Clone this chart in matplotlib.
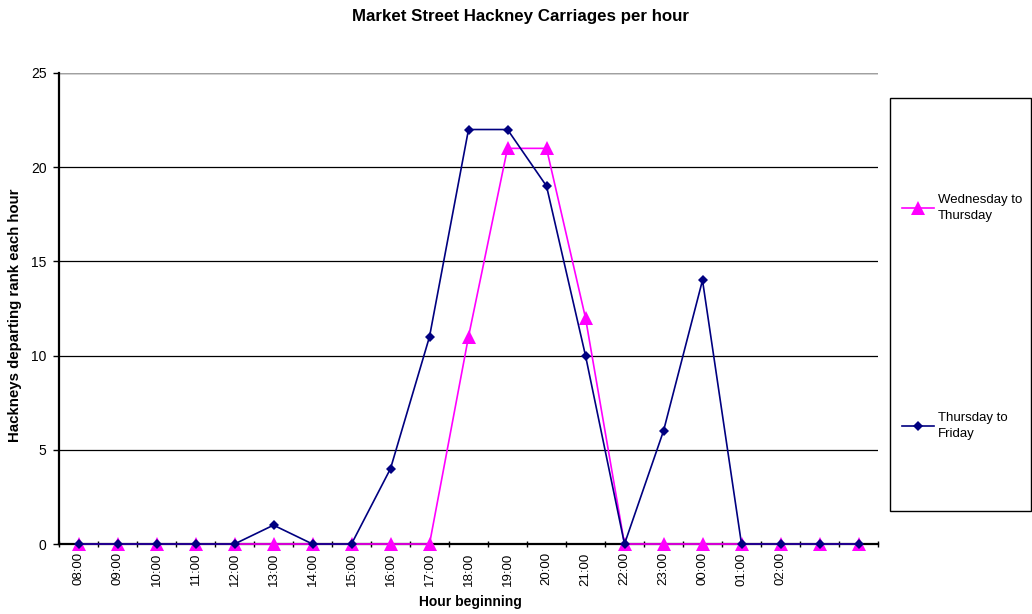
import matplotlib.pyplot as plt
from matplotlib.patches import Rectangle

plt.rcParams['font.family'] = ['Liberation Sans', 'DejaVu Sans']

# Data
hours = ["08:00", "09:00", "10:00", "11:00", "12:00", "13:00", "14:00",
         "15:00", "16:00", "17:00", "18:00", "19:00", "20:00", "21:00",
         "22:00", "23:00", "00:00", "01:00", "02:00", "", ""]
wed_thu = [0, 0, 0, 0, 0, 0, 0, 0, 0, 0, 11, 21, 21, 12, 0, 0, 0, 0, 0, 0, 0]
thu_fri = [0, 0, 0, 0, 0, 1, 0, 0, 4, 11, 22, 22, 19, 10, 0, 6, 14, 0, 0, 0, 0]

fig = plt.figure(figsize=(10.32, 6.14), dpi=100)
ax = fig.add_axes([59 / 1032, 1 - 544 / 614, (878 - 59) / 1032, (544 - 73) / 614])

x = list(range(len(hours)))
l1, = ax.plot(x, wed_thu, color='#FF00FF', lw=1.2, marker='^', markersize=9.5,
              markeredgewidth=0, label='Wednesday to\nThursday', zorder=3, clip_on=False)
l2, = ax.plot(x, thu_fri, color='#000080', lw=1.2, marker='D', markersize=5,
              markeredgewidth=0, label='Thursday to\nFriday', zorder=4, clip_on=False)

ax.set_xlim(-0.5, len(hours) - 0.5)
ax.set_ylim(0, 25)
ax.set_yticks(range(0, 26, 5))
ax.set_xticks(x)
ax.set_xticklabels(hours, rotation=90, fontsize=9.5)
ax.set_xticks([i - 0.5 for i in range(len(hours) + 1)], minor=True)
ax.tick_params(axis='x', which='major', length=0, pad=6)
ax.tick_params(axis='x', which='minor', length=4, width=1, direction='inout', color='black')
ax.tick_params(axis='y', labelsize=10, length=4, width=1, direction='out', pad=5)

ax.yaxis.grid(True, color='black', lw=0.9)
ax.axhline(25, color='#A0A0A0', lw=1, zorder=1)
ax.set_axisbelow(True)
for s in ['top', 'right']:
    ax.spines[s].set_visible(False)
ax.spines['left'].set_linewidth(1.6)
ax.spines['bottom'].set_linewidth(1.6)

ax.set_xlabel('Hour beginning', fontsize=10, fontweight='bold')
ax.set_ylabel('Hackneys departing rank each hour', fontsize=10.8, fontweight='bold')
ax.xaxis.set_label_coords((470 - 59) / 819, -(602 - 544) / 471)
ax.yaxis.set_label_coords(-(59 - 15) / 819, (544 - 315) / 471)
ax.xaxis.label.set_va('center')
ax.yaxis.label.set_va('center')
fig.text(521 / 1032, 1 - 17 / 614, 'Market Street Hackney Carriages per hour',
         ha='center', va='center', fontsize=12.2, fontweight='bold')

# legend box
fig.patches.append(Rectangle((890 / 1032, 1 - 511 / 614), (1031 - 890) / 1032, (511 - 98) / 614,
                             transform=fig.transFigure, facecolor='white',
                             edgecolor='black', lw=1))
leg1 = fig.legend(handles=[l1], loc='center left', frameon=False, fontsize=9.5,
                  bbox_to_anchor=(902 / 1032, 1 - 208 / 614), handlelength=2.4,
                  handletextpad=0.3, borderaxespad=0, borderpad=0)
leg2 = fig.legend(handles=[l2], loc='center left', frameon=False, fontsize=9.5,
                  bbox_to_anchor=(902 / 1032, 1 - 426 / 614), handlelength=2.4,
                  handletextpad=0.3, borderaxespad=0, borderpad=0)
for lg in (leg1, leg2):
    for t in lg.get_texts():
        t.set_linespacing(1.4)

fig.savefig('out.png', dpi=100)
